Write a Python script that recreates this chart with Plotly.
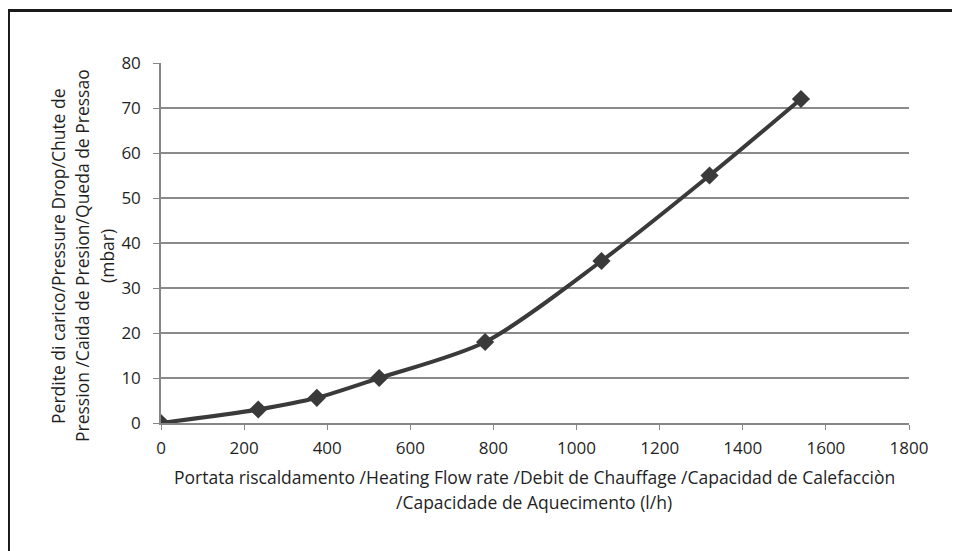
import plotly.graph_objects as go

flow = [0, 234, 375, 525, 780, 1060, 1320, 1540]
pressure = [0, 3, 5.6, 10, 18, 36, 55, 72]

x_ticks = list(range(0, 1801, 200))
y_ticks = list(range(0, 81, 10))

x_title_lines = [
    "Portata riscaldamento /Heating Flow rate /Debit de Chauffage /Capacidad de Calefacciòn",
    "/Capacidade de Aquecimento (l/h)",
]
y_title_lines = [
    "Perdite di carico/Pressure Drop/Chute de",
    "Pression /Caida de Presion/Queda de Pressao",
    "(mbar)",
]

FONT = "Open Sans, Liberation Sans, sans-serif"
TXT = "#1f1f1f"
FS = 17
FS_TITLE = 17.5

fig = go.Figure()
fig.add_trace(go.Scatter(
    x=flow, y=pressure, mode="lines+markers",
    line=dict(color="#3a3a3a", width=4, shape="spline", smoothing=0.8),
    marker=dict(symbol="diamond", size=14, color="#3a3a3a"),
    showlegend=False,
))

annotations = []
for y, line in zip([-0.15, -0.2194], x_title_lines):
    annotations.append(dict(text=line, xref="paper", yref="paper", x=0.4987, y=y,
                            xanchor="center", yanchor="middle", showarrow=False,
                            font=dict(family=FONT, size=FS_TITLE, color=TXT)))
for x, line in zip([-0.1377, -0.1056, -0.0722], y_title_lines):
    annotations.append(dict(text=line, xref="paper", yref="paper", x=x, y=0.464,
                            xanchor="center", yanchor="middle", showarrow=False,
                            textangle=-90,
                            font=dict(family=FONT, size=FS_TITLE, color=TXT)))

fig.update_layout(
    width=960, height=551,
    margin=dict(l=153, r=59, t=55, b=136),
    paper_bgcolor="white", plot_bgcolor="white",
    font=dict(family=FONT, size=FS, color=TXT),
    xaxis=dict(
        range=[0, 1800], tickvals=x_ticks,
        showgrid=False, zeroline=False,
        showline=True, linecolor="#868686", linewidth=1.5,
        ticks="outside", ticklen=5, tickcolor="#868686",
        ticklabelstandoff=4,
        tickfont=dict(size=FS, color=TXT),
    ),
    yaxis=dict(
        range=[0, 80], tickvals=y_ticks,
        showgrid=True, gridcolor="#8a8a8a", gridwidth=1.5,
        zeroline=False,
        showline=True, linecolor="#868686", linewidth=1.5,
        ticks="outside", ticklen=6, tickcolor="#868686",
        ticklabelstandoff=9,
        tickfont=dict(size=FS, color=TXT),
    ),
    annotations=annotations,
    shapes=[
        dict(type="line", xref="paper", yref="paper",
             x0=-0.2039, x1=1.1, y0=1.1458, y1=1.1458,
             line=dict(color="#1a1a1a", width=3)),
        dict(type="line", xref="paper", yref="paper",
             x0=-0.2039, x1=-0.2039, y0=1.15, y1=-0.4,
             line=dict(color="#1a1a1a", width=3)),
    ],
)

fig.write_html("out.html")
